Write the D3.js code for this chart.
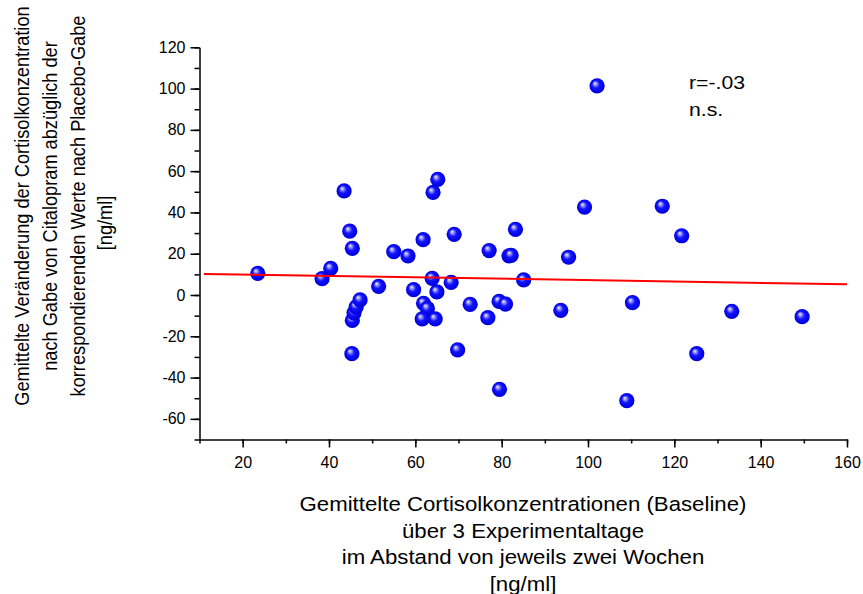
<!DOCTYPE html>
<html>
<head>
<meta charset="utf-8">
<script src="https://cdn.jsdelivr.net/npm/d3@7"></script>
<style>
  html, body { margin: 0; padding: 0; background: #fff; }
  svg { display: block; font-family: "Liberation Sans", Arial, sans-serif; }
</style>
</head>
<body>
<svg id="chart" width="863" height="594"></svg>
<script>
// Baseline cortisol (x) vs. change after citalopram minus placebo (y), one entry per subject
const baseline = [23.5, 38.4, 40.4, 43.5, 44.8, 45.4, 45.4, 45.8, 46.3, 47.2, 45.3,
  51.5, 55.0, 58.3, 59.6, 61.8, 61.9, 62.8, 61.6, 64.6, 63.9, 64.1, 65.2, 65.0,
  68.3, 69.0, 69.8, 72.7, 76.8, 77.1, 79.4, 79.5, 80.9, 81.7, 82.2, 83.2, 85.1,
  93.7, 95.5, 99.2, 102.1, 109.0, 110.3, 117.2, 121.7, 125.2, 133.3, 149.6];
const change = [10.5, 7.9, 12.9, 50.4, 30.9, 22.6, -12.3, -8.6, -5.7, -2.4, -28.4,
  4.2, 21.0, 18.9, 2.6, 26.8, -4.0, -6.5, -11.6, -11.6, 8.1, 49.7, 56.0, 1.5,
  6.1, 29.4, -26.6, -4.5, -11.0, 21.5, -3.1, -45.7, -4.4, 19.0, 19.2, 31.8, 7.3,
  -7.4, 18.3, 42.6, 101.3, -51.2, -3.7, 43.0, 28.7, -28.4, -7.9, -10.5];

// Linear fit endpoints (x, y)
const fitX = [11, 160];
const fitY = [10.2, 5.2];

const xTicks = [20, 40, 60, 80, 100, 120, 140, 160];
const yTicks = [-60, -40, -20, 0, 20, 40, 60, 80, 100, 120];
const xMinor = d3.range(10, 161, 10);
const yMinor = d3.range(-70, 121, 10);

const annotation = ["r=-.03", "n.s."];
const xTitle = ["Gemittelte Cortisolkonzentrationen (Baseline)", "über 3 Experimentaltage",
  "im Abstand von jeweils zwei Wochen", "[ng/ml]"];
const yTitle = ["Gemittelte Veränderung der Cortisolkonzentration", "nach Gabe von Citalopram abzüglich der",
  "korrespondierenden Werte nach Placebo-Gabe", "[ng/ml]"];

const svg = d3.select("#chart");
const x = d3.scaleLinear().domain([10, 160]).range([199.5, 847]);
const y = d3.scaleLinear().domain([-70, 120]).range([439.5, 47.3]);
const sx = 1.14; // horizontal widening of the label type

// Sphere shading for markers
const defs = svg.append("defs");
const grad = defs.append("radialGradient").attr("id", "ball")
  .attr("cx", "50%").attr("cy", "50%").attr("r", "55%")
  .attr("fx", "35%").attr("fy", "32%");
grad.append("stop").attr("offset", "0%").attr("stop-color", "#f4f4ff");
grad.append("stop").attr("offset", "18%").attr("stop-color", "#9a9aff");
grad.append("stop").attr("offset", "45%").attr("stop-color", "#1414ff");
grad.append("stop").attr("offset", "85%").attr("stop-color", "#0000e0");
grad.append("stop").attr("offset", "100%").attr("stop-color", "#0000b8");

// Axes
const axisStyle = g => {
  g.selectAll("path.domain").attr("stroke", "#000").attr("stroke-width", 1.5);
  g.selectAll(".tick line").attr("stroke", "#000").attr("stroke-width", 1.5);
  g.selectAll(".tick text").attr("font-size", 16).attr("fill", "#000")
    .attr("font-family", "'Liberation Sans', Arial, sans-serif");
};
const plain = d => String(d);

svg.append("g").attr("transform", `translate(0,${y(-70)})`)
  .call(d3.axisBottom(x).tickValues(xMinor).tickSize(4).tickFormat("").tickSizeOuter(0))
  .call(axisStyle);
svg.append("g").attr("transform", `translate(0,${y(-70)})`)
  .call(d3.axisBottom(x).tickValues(xTicks).tickSize(8).tickPadding(9).tickSizeOuter(0).tickFormat(plain))
  .call(g => g.select("path.domain").remove())
  .call(axisStyle);

svg.append("g").attr("transform", `translate(${x(10)},0)`)
  .call(d3.axisLeft(y).tickValues(yMinor).tickSize(5).tickFormat("").tickSizeOuter(0))
  .call(axisStyle);
svg.append("g").attr("transform", `translate(${x(10)},0)`)
  .call(d3.axisLeft(y).tickValues(yTicks).tickSize(9).tickPadding(5).tickSizeOuter(0).tickFormat(plain))
  .call(g => g.select("path.domain").remove())
  .call(axisStyle);

// Data points
svg.append("g").selectAll("circle")
  .data(d3.zip(baseline, change))
  .join("circle")
  .attr("cx", d => x(d[0]))
  .attr("cy", d => y(d[1]))
  .attr("r", 7.6)
  .attr("fill", "url(#ball)");

// Regression line
svg.append("line")
  .attr("x1", x(fitX[0])).attr("y1", y(fitY[0]))
  .attr("x2", x(fitX[1])).attr("y2", y(fitY[1]))
  .attr("stroke", "#ff0000").attr("stroke-width", 2);

// Correlation annotation
svg.append("g").selectAll("text")
  .data(annotation)
  .join("text")
  .attr("transform", (d, i) => `translate(689,${88.5 + i * 27}) scale(${sx},1)`)
  .attr("font-size", 18.6)
  .text(d => d);

// X axis title
svg.append("g").selectAll("text")
  .data(xTitle)
  .join("text")
  .attr("transform", (d, i) => `translate(523,${511 + i * 26.6}) scale(${sx},1)`)
  .attr("text-anchor", "middle")
  .attr("font-size", 19.5)
  .text(d => d);

// Y axis title (the unit line sits a little lower than the centred text block)
svg.append("g").attr("transform", `translate(0,206) scale(${sx},1) rotate(-90)`)
  .selectAll("text")
  .data(yTitle)
  .join("text")
  .attr("x", (d, i) => i === 3 ? -17 : 0)
  .attr("y", (d, i) => [29.5, 57.5, 85, 112.5][i] / sx)
  .attr("text-anchor", "middle")
  .attr("font-size", 18.2)
  .text(d => d);
</script>
</body>
</html>
